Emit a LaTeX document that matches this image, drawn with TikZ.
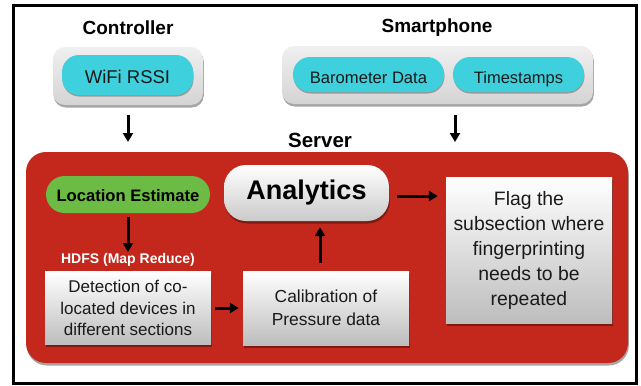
\documentclass[tikz,border=0pt]{standalone}
\usepackage{fontspec}
\setmainfont{Liberation Sans}
\usetikzlibrary{shadows,arrows.meta,shapes.misc}
\definecolor{pillcyan}{HTML}{3ED0DC}
\definecolor{pillgreen}{HTML}{6CBB45}
\definecolor{serverred}{HTML}{C4281C}
\definecolor{groupgray}{HTML}{D4D4D4}
\definecolor{boxgray}{HTML}{BDBDBD}
\definecolor{txt}{HTML}{1A1A1A}
\tikzset{
  shad/.style={drop shadow={shadow xshift=0.8pt,shadow yshift=-2.5pt,opacity=0.35,fill=black}},
  grp/.style={shad,rounded corners=12pt,top color=white!94!black,bottom color=groupgray,inner sep=0pt},
  cpill/.style={rounded corners=17pt,fill=pillcyan,inner sep=0pt,text=txt,text height=17pt,text depth=0pt,
     drop shadow={shadow xshift=0.5pt,shadow yshift=-1.5pt,opacity=0.3,fill=black}},
  gpill/.style={rounded rectangle,fill=pillgreen,inner sep=0pt,text=black,text height=14.5pt,text depth=0pt,
     font=\fontsize{16.6}{20}\selectfont\bfseries},
  gbox/.style={shad,top color=white,bottom color=boxgray,inner sep=0pt,text=txt,align=center},
  ttl/.style={font=\fontsize{19}{23}\selectfont\bfseries,text=black},
  arr/.style={line width=3pt,-{Triangle[length=9pt,width=10pt]}}
}
\begin{document}
\begin{tikzpicture}[x=1pt,y=-1pt]
\useasboundingbox (0,0) rectangle (641,386);
\fill[white] (0,0) rectangle (641,386);
\draw[line width=3pt] (13.5,5.5) rectangle (636,383.5);

% titles
\node[ttl] (tctrl) at (128,28) {Controller};
\node[ttl] (tsmart) at (437,28) {Smartphone};
\node[font=\fontsize{20.5}{24}\selectfont\bfseries] (tserver) at (320,140) {Server};

% controller group
\node[grp,minimum width=150pt,minimum height=58pt] (ctrlgrp) at (128,76) {};
\node[cpill,minimum width=131pt,minimum height=40pt,font=\fontsize{18.5}{22}\selectfont] (wifi) at (127.5,75) {WiFi RSSI};

% smartphone group
\node[grp,minimum width=311pt,minimum height=58pt] (smartgrp) at (437.5,75) {};
\node[cpill,minimum width=151pt,minimum height=35pt,font=\fontsize{16.6}{20}\selectfont] (baro) at (368.5,74.5) {Barometer Data};
\node[cpill,minimum width=131pt,minimum height=35pt,font=\fontsize{16.5}{20}\selectfont] (time) at (518.5,74.5) {Timestamps};

% incoming arrows
\coordinate (a1s) at (128,115);
\coordinate (a1e) at (128,142);
\coordinate (a2s) at (455,115);
\coordinate (a2e) at (455,142);
\draw[arr] (a1s) -- (a1e);
\draw[arr] (a2s) -- (a2e);

% server
\node[shad,fill=serverred,rounded corners=20pt,minimum width=602pt,minimum height=211pt,inner sep=0pt] (server) at (327,257.5) {};

\node[gpill,minimum width=164pt,minimum height=37pt] (loc) at (128,194.5) {Location Estimate};
\node[shad,rounded corners=22pt,top color=white,bottom color=boxgray!80,minimum width=165pt,minimum height=56pt,inner sep=0pt,
      font=\fontsize{27}{30}\selectfont\bfseries] (ana) at (306.5,193) {Analytics};
\node[gbox,minimum width=166pt,minimum height=146pt,font=\fontsize{19.4}{25}\selectfont] (flag) at (529,250)
  {Flag the\\subsection where\\fingerprinting\\needs to be\\repeated};
\node[font=\fontsize{14}{16}\selectfont\bfseries,text=white] (hdfs) at (128,260) {HDFS (Map Reduce)};
\node[gbox,minimum width=166pt,minimum height=73pt,font=\fontsize{17}{21.5}\selectfont] (det) at (128,308)
  {Detection of co-\\located devices in\\different sections};
\node[gbox,minimum width=166pt,minimum height=74pt,font=\fontsize{17.4}{23}\selectfont] (cal) at (326,308)
  {Calibration of\\Pressure data};

% server arrows
\coordinate (locend) at (128,252);
\coordinate (upx) at (320,0);
\draw[arr,shorten <=4pt] (loc.south) -- (locend);
\draw[arr,shorten <=4pt,shorten >=4pt] (det.east) -- (cal.west);
\draw[arr,shorten <=8pt,shorten >=6pt] (cal.north -| upx) -- (ana.south -| upx);
\draw[arr,shorten <=8pt,shorten >=8pt] ([yshift=-3pt]ana.east) -- ([yshift=-3pt]ana.east -| flag.west);
\end{tikzpicture}
\end{document}
